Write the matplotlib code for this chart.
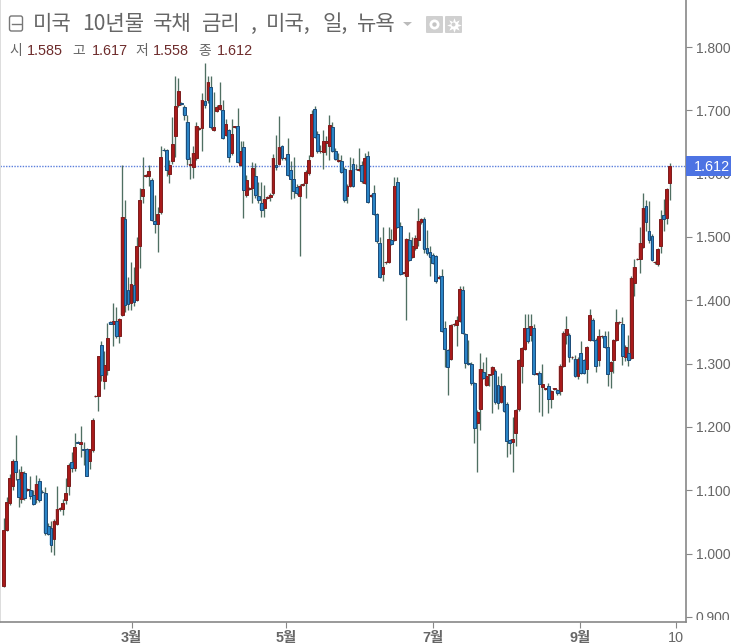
import matplotlib
matplotlib.use('Agg')
import matplotlib.pyplot as plt
from matplotlib.patches import FancyBboxPatch, Rectangle, Circle, Polygon
import numpy as np

plt.rcParams['font.family'] = ['Liberation Sans', 'Noto Sans CJK KR', 'DejaVu Sans']

# Daily candles.
opens = [0.949, 1.037, 1.080, 1.107, 1.147, 1.118, 1.086, 1.127, 1.100, 1.100,
         1.093, 1.086, 1.114, 1.098, 1.096, 1.043, 1.041, 1.023, 1.047, 1.070,
         1.071, 1.084, 1.107, 1.144, 1.136, 1.176, 1.173, 1.165, 1.165, 1.147,
         1.163, 1.249, 1.249, 1.330, 1.273, 1.290, 1.366, 1.363, 1.368, 1.343,
         1.377, 1.529, 1.416, 1.396, 1.424, 1.401, 1.486, 1.565, 1.597, 1.596,
         1.590, 1.525, 1.520, 1.539, 1.638, 1.637, 1.600, 1.620, 1.660, 1.708,
         1.712, 1.706, 1.682, 1.614, 1.610, 1.624, 1.671, 1.672, 1.714, 1.716,
         1.737, 1.669, 1.699, 1.702, 1.701, 1.661, 1.669, 1.632, 1.674, 1.676,
         1.614, 1.642, 1.566, 1.576, 1.577, 1.597, 1.564, 1.554, 1.545, 1.562,
         1.563, 1.569, 1.614, 1.615, 1.644, 1.624, 1.631, 1.606, 1.591, 1.579,
         1.565, 1.582, 1.585, 1.601, 1.628, 1.702, 1.663, 1.635, 1.634, 1.648,
         1.643, 1.673, 1.635, 1.620, 1.620, 1.607, 1.564, 1.581, 1.615, 1.608,
         1.606, 1.614, 1.585, 1.628, 1.565, 1.570, 1.536, 1.491, 1.441, 1.460,
         1.461, 1.495, 1.496, 1.587, 1.517, 1.443, 1.439, 1.495, 1.469, 1.482,
         1.495, 1.523, 1.528, 1.482, 1.477, 1.472, 1.470, 1.436, 1.439, 1.356,
         1.321, 1.307, 1.362, 1.361, 1.367, 1.416, 1.347, 1.301, 1.300, 1.269,
         1.207, 1.228, 1.287, 1.267, 1.282, 1.284, 1.289, 1.266, 1.240, 1.264,
         1.237, 1.179, 1.177, 1.190, 1.228, 1.296, 1.323, 1.356, 1.345, 1.357,
         1.284, 1.286, 1.263, 1.260, 1.264, 1.244, 1.260, 1.258, 1.257, 1.296,
         1.346, 1.346, 1.310, 1.308, 1.280, 1.317, 1.306, 1.291, 1.338,
         1.369, 1.338, 1.305, 1.343, 1.343, 1.327, 1.288, 1.305, 1.338, 1.365,
         1.363, 1.311, 1.317, 1.309, 1.427, 1.465, 1.465, 1.484, 1.549, 1.510,
         1.501, 1.460, 1.458, 1.486, 1.535, 1.530, 1.585]
highs = [1.056, 1.089, 1.126, 1.150, 1.187, 1.133, 1.138, 1.130, 1.104, 1.123,
         1.101, 1.124, 1.119, 1.100, 1.105, 1.048, 1.052, 1.055, 1.107, 1.074,
         1.087, 1.119, 1.143, 1.161, 1.190, 1.178, 1.202, 1.177, 1.167, 1.166,
         1.214, 1.250, 1.312, 1.335, 1.320, 1.364, 1.367, 1.395, 1.390, 1.372,
         1.614, 1.559, 1.437, 1.461, 1.453, 1.500, 1.577, 1.626, 1.600, 1.614,
         1.593, 1.566, 1.548, 1.644, 1.640, 1.639, 1.621, 1.690, 1.754, 1.751,
         1.713, 1.708, 1.693, 1.627, 1.643, 1.681, 1.673, 1.728, 1.775, 1.754,
         1.754, 1.729, 1.708, 1.745, 1.716, 1.687, 1.671, 1.687, 1.676, 1.703,
         1.651, 1.651, 1.598, 1.579, 1.619, 1.617, 1.587, 1.587, 1.582, 1.565,
         1.569, 1.631, 1.661, 1.691, 1.646, 1.627, 1.656, 1.620, 1.627, 1.583,
         1.584, 1.585, 1.605, 1.630, 1.700, 1.707, 1.668, 1.645, 1.669, 1.660,
         1.693, 1.681, 1.640, 1.632, 1.630, 1.610, 1.583, 1.627, 1.624, 1.615,
         1.640, 1.620, 1.632, 1.635, 1.568, 1.582, 1.538, 1.500, 1.516, 1.462,
         1.516, 1.512, 1.594, 1.594, 1.524, 1.445, 1.499, 1.508, 1.500, 1.503,
         1.545, 1.530, 1.532, 1.511, 1.485, 1.475, 1.472, 1.440, 1.450, 1.367,
         1.323, 1.363, 1.364, 1.375, 1.423, 1.423, 1.349, 1.337, 1.303, 1.271,
         1.227, 1.317, 1.303, 1.311, 1.284, 1.297, 1.291, 1.280, 1.285, 1.266,
         1.239, 1.181, 1.216, 1.229, 1.308, 1.326, 1.379, 1.379, 1.379, 1.362,
         1.286, 1.288, 1.300, 1.262, 1.269, 1.259, 1.262, 1.260, 1.299, 1.351,
         1.375, 1.349, 1.312, 1.314, 1.310, 1.335, 1.308, 1.328, 1.387,
         1.372, 1.341, 1.355, 1.345, 1.351, 1.351, 1.304, 1.339, 1.387, 1.367,
         1.373, 1.329, 1.345, 1.438, 1.466, 1.467, 1.516, 1.569, 1.559, 1.557,
         1.505, 1.462, 1.482, 1.542, 1.560, 1.577, 1.617]
lows = [0.947, 1.035, 1.077, 1.100, 1.116, 1.074, 1.080, 1.085, 1.099, 1.087,
        1.077, 1.080, 1.082, 1.096, 1.030, 1.030, 1.002, 0.998, 1.045, 1.068,
        1.061, 1.079, 1.092, 1.129, 1.131, 1.174, 1.153, 1.140, 1.122, 1.133,
        1.161, 1.248, 1.226, 1.272, 1.260, 1.282, 1.362, 1.328, 1.341, 1.332,
        1.375, 1.382, 1.385, 1.385, 1.391, 1.399, 1.451, 1.553, 1.595, 1.580,
        1.525, 1.507, 1.476, 1.537, 1.636, 1.596, 1.586, 1.615, 1.627, 1.706,
        1.708, 1.685, 1.614, 1.591, 1.593, 1.622, 1.669, 1.635, 1.703, 1.712,
        1.671, 1.667, 1.697, 1.700, 1.655, 1.659, 1.619, 1.630, 1.672, 1.617,
        1.612, 1.530, 1.563, 1.574, 1.553, 1.561, 1.554, 1.531, 1.531, 1.560,
        1.557, 1.567, 1.606, 1.613, 1.622, 1.622, 1.596, 1.560, 1.562, 1.567,
        1.470, 1.580, 1.561, 1.598, 1.626, 1.656, 1.633, 1.632, 1.607, 1.630,
        1.621, 1.634, 1.621, 1.618, 1.601, 1.556, 1.553, 1.579, 1.579, 1.606,
        1.604, 1.586, 1.583, 1.554, 1.563, 1.535, 1.491, 1.435, 1.430, 1.458,
        1.459, 1.487, 1.494, 1.514, 1.440, 1.441, 1.369, 1.462, 1.467, 1.480,
        1.485, 1.521, 1.474, 1.472, 1.439, 1.457, 1.427, 1.434, 1.350, 1.295,
        1.251, 1.305, 1.360, 1.328, 1.365, 1.347, 1.293, 1.298, 1.267, 1.175,
        1.129, 1.195, 1.275, 1.265, 1.264, 1.222, 1.237, 1.229, 1.238, 1.224,
        1.153, 1.157, 1.129, 1.170, 1.226, 1.269, 1.321, 1.333, 1.335, 1.282,
        1.282, 1.224, 1.218, 1.258, 1.222, 1.230, 1.258, 1.251, 1.250, 1.294,
        1.331, 1.302, 1.308, 1.279, 1.275, 1.284, 1.283, 1.269, 1.336,
        1.336, 1.287, 1.297, 1.341, 1.325, 1.264, 1.261, 1.285, 1.336, 1.363,
        1.298, 1.304, 1.296, 1.307, 1.407, 1.463, 1.443, 1.482, 1.510, 1.490,
        1.462, 1.458, 1.454, 1.475, 1.510, 1.520, 1.558]
closes = [1.038, 1.082, 1.120, 1.146, 1.129, 1.090, 1.129, 1.088, 1.102, 1.091,
          1.078, 1.110, 1.085, 1.097, 1.032, 1.031, 1.013, 1.052, 1.071, 1.072,
          1.080, 1.096, 1.140, 1.135, 1.169, 1.175, 1.177, 1.164, 1.123, 1.165,
          1.211, 1.249, 1.312, 1.282, 1.298, 1.341, 1.363, 1.368, 1.343, 1.371,
          1.531, 1.393, 1.394, 1.426, 1.398, 1.486, 1.559, 1.576, 1.598, 1.604,
          1.527, 1.521, 1.536, 1.626, 1.637, 1.606, 1.613, 1.647, 1.707, 1.730,
          1.710, 1.693, 1.623, 1.615, 1.632, 1.675, 1.672, 1.717, 1.708, 1.744,
          1.674, 1.673, 1.706, 1.709, 1.657, 1.678, 1.627, 1.663, 1.675, 1.619,
          1.635, 1.574, 1.590, 1.577, 1.609, 1.566, 1.559, 1.542, 1.560, 1.563,
          1.567, 1.625, 1.610, 1.642, 1.624, 1.625, 1.598, 1.591, 1.572, 1.569,
          1.580, 1.583, 1.603, 1.622, 1.694, 1.658, 1.635, 1.636, 1.652, 1.652,
          1.677, 1.636, 1.623, 1.621, 1.603, 1.558, 1.581, 1.606, 1.581, 1.607,
          1.607, 1.588, 1.625, 1.556, 1.566, 1.537, 1.493, 1.437, 1.453, 1.461,
          1.497, 1.489, 1.580, 1.516, 1.442, 1.444, 1.497, 1.464, 1.485, 1.499,
          1.525, 1.528, 1.481, 1.474, 1.469, 1.459, 1.431, 1.437, 1.352, 1.323,
          1.295, 1.361, 1.363, 1.369, 1.418, 1.349, 1.301, 1.300, 1.269, 1.198,
          1.223, 1.291, 1.277, 1.281, 1.283, 1.295, 1.239, 1.238, 1.265, 1.226,
          1.178, 1.174, 1.181, 1.227, 1.306, 1.324, 1.356, 1.335, 1.360, 1.284,
          1.285, 1.268, 1.268, 1.261, 1.244, 1.257, 1.261, 1.253, 1.297, 1.349,
          1.354, 1.311, 1.311, 1.280, 1.308, 1.286, 1.285, 1.326, 1.377,
          1.338, 1.297, 1.343, 1.344, 1.327, 1.283, 1.302, 1.337, 1.365, 1.366,
          1.312, 1.327, 1.306, 1.436, 1.453, 1.466, 1.490, 1.546, 1.524, 1.495,
          1.464, 1.461, 1.481, 1.528, 1.529, 1.576, 1.612]

y_ticks = [0.9, 1.0, 1.1, 1.2, 1.3, 1.4, 1.5, 1.6, 1.7, 1.8]
x_ticks = [43.2, 95.4, 145.0, 194.7, 227.1]
x_labels = ['3월', '5월', '7월', '9월', '10']

W, H = 731, 644
RED, RED_EDGE, RED_HALO = '#a81a1a', '#7c1c1c', '#e39a9a'
BLUE, BLUE_EDGE, BLUE_HALO = '#2a84c6', '#1b4a78', '#9cc8e6'
WICK = '#4f6f62'
GREY = '#666666'
KR = ['Noto Sans CJK KR', 'DejaVu Sans']

fig = plt.figure(figsize=(W / 100, H / 100), dpi=100)
ax = fig.add_axes([0, 22 / H, 686 / W, 622 / H])

idx = np.arange(len(closes))
opens, highs, lows, closes = map(np.array, (opens, highs, lows, closes))
up = closes >= opens

# wicks, soft halo like the screenshot's blur, then the bodies
ax.vlines(idx, lows, highs, color=WICK, lw=0.95, zorder=2)
ax.bar(idx[up], (closes - opens)[up], bottom=opens[up], width=1.2,
       color=RED_HALO, lw=0, alpha=0.5, zorder=2.5)
ax.bar(idx[~up], (opens - closes)[~up], bottom=closes[~up], width=1.2,
       color=BLUE_HALO, lw=0, alpha=0.5, zorder=2.5)
ax.bar(idx[up], (closes - opens)[up], bottom=opens[up], width=0.95,
       color=RED, edgecolor=RED_EDGE, lw=0.7, zorder=3)
ax.bar(idx[~up], (opens - closes)[~up], bottom=closes[~up], width=0.95,
       color=BLUE, edgecolor=BLUE_EDGE, lw=0.7, zorder=3)

step = 2.96
ax.set_xlim(-3.7 / step, (686 - 3.7) / step)
ax.set_ylim(1.8 - (622 - 47) * 0.001579, 1.8 + 47 * 0.001579)

ax.yaxis.tick_right()
ax.set_yticks(y_ticks)
ax.set_yticklabels(['%.3f' % v for v in y_ticks], fontsize=10, color=GREY)
ax.set_xticks(x_ticks)
ax.set_xticklabels(x_labels, fontsize=10.4, color=GREY)
for lab in ax.get_xticklabels()[:-1]:
    lab.set_fontweight('bold')
ax.tick_params(axis='y', length=4, width=0.8, color='#888888', pad=3)
ax.tick_params(axis='x', length=4, width=0.8, color='#888888', pad=2.5)

ax.spines['top'].set_visible(False)
ax.spines['left'].set_color('#dddddd')
ax.spines['left'].set_linewidth(1.4)
for side in ('right', 'bottom'):
    ax.spines[side].set_color('#888888')
    ax.spines[side].set_linewidth(1.2)

# last price line and tag
last = closes[-1]
ax.axhline(last, color='#5b7fdc', lw=1, ls=(0, (1, 1)), zorder=1)
trans = ax.get_yaxis_transform()
ax.add_patch(Rectangle((1.0, last - 0.0155), 0.07, 0.031, transform=trans,
                       clip_on=False, color='#4d73e3', lw=0, zorder=5))
ax.text(1.0117, last - 0.001, '%.3f' % last, transform=trans, color='white',
        fontsize=10.4, va='center', ha='left', zorder=6, clip_on=False)

# overlay in pixels for the header
over = fig.add_axes([0, 0, 1, 1], facecolor='none')
over.set_xlim(0, W)
over.set_ylim(H, 0)
over.axis('off')

over.add_patch(FancyBboxPatch((9.5, 16), 13, 15, boxstyle='round,pad=0,rounding_size=2',
                              fc='white', ec='#777777', lw=1))
over.plot([12, 20.5], [23.5, 23.5], color='#777777', lw=1)
title_words = [('미국', 33), ('10년물', 82), ('국채', 153), ('금리', 202), (',', 251),
               ('미국,', 266), ('일,', 322), ('뉴욕', 357)]
for word, x0 in title_words:
    over.text(x0, 24, word, fontsize=15.2, color='#666666', family=KR, va='center', ha='left')
over.add_patch(Polygon([[403, 22], [412, 22], [407.5, 26]], color='#bbbbbb', lw=0))

# eye and gear buttons
for x0 in (426, 445):
    over.add_patch(FancyBboxPatch((x0, 16), 17, 17, boxstyle='round,pad=0,rounding_size=1',
                                  fc='#d0d0d0', ec='none'))
over.add_patch(Circle((434.5, 24.5), 5, fc='white', ec='none'))
over.add_patch(Circle((434.5, 24.5), 2.2, fc='#c4c4c4', ec='none'))
over.scatter([453.5], [24.5], marker=(8, 1, 0), s=110, color='white', lw=0)
over.add_patch(Circle((453.5, 24.5), 2, fc='#d0d0d0', ec='none'))

# OHLC readout
readout = [('시', 9, opens[-1], 27), ('고', 72, highs[-1], 92),
           ('저', 135, lows[-1], 153), ('종', 198, closes[-1], 217)]
for name, x_name, value, x_value in readout:
    over.text(x_name, 50.5, name, fontsize=10, color=GREY, va='center', ha='left', family=KR)
    over.text(x_value, 50.5, '%.3f' % value, fontsize=10.4, color='#6e2c2c', va='center', ha='left')

# the lowest tick label is cut by the chart edge
over.add_patch(Rectangle((690, 619.5), 41, 12, fc='white', ec='none'))

fig.savefig('out.png', dpi=100)
plt.close()
